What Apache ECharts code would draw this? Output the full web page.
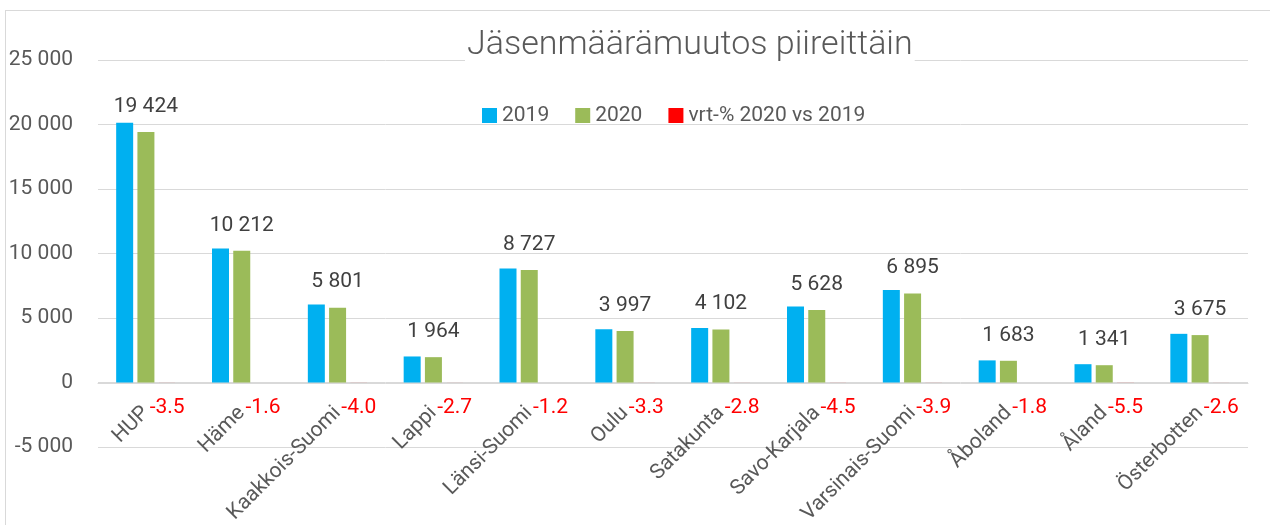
<!DOCTYPE html>
<html>
<head>
<meta charset="utf-8">
<script src="https://cdn.jsdelivr.net/npm/echarts@6/dist/echarts.min.js"></script>
<style>
  html, body { margin: 0; padding: 0; background: #fff; }
  #frame {
    position: absolute; left: 5px; top: 10px; width: 1300px; height: 600px;
    border-left: 1px solid #d9d9d9; border-top: 1px solid #d9d9d9;
  }
  #chart { position: absolute; left: 0; top: 0; width: 1270px; height: 525px; }
</style>
</head>
<body>
<div id="frame"></div>
<div id="chart"></div>
<script>
// 数据
const districts = ['HUP', 'Häme', 'Kaakkois-Suomi', 'Lappi', 'Länsi-Suomi', 'Oulu', 'Satakunta',
  'Savo-Karjala', 'Varsinais-Suomi', 'Åboland', 'Åland', 'Österbotten']
const members2019 = [20128, 10378, 6043, 2018, 8833, 4133, 4220, 5893, 7175, 1714, 1419, 3773]
const members2020 = [19424, 10212, 5801, 1964, 8727, 3997, 4102, 5628, 6895, 1683, 1341, 3675]
const changePct = [-3.5, -1.6, -4.0, -2.7, -1.2, -3.3, -2.8, -4.5, -3.9, -1.8, -5.5, -2.6]

const FONT = "'Roboto', sans-serif"
const fmt = v => String(v).replace(/\B(?=(\d{3})+(?!\d))/g, ' ')

const chart = echarts.init(document.getElementById('chart'))

chart.setOption({
  animation: false,
  textStyle: { fontFamily: FONT },
  title: {
    text: 'Jäsenmäärämuutos piireittäin',
    left: 465,
    top: 26,
    padding: [2, 2, 2, 2],
    backgroundColor: '#fff',
    textStyle: { fontFamily: FONT, fontSize: 34, fontWeight: 300, color: '#595959' }
  },
  legend: {
    left: 477,
    top: 100,
    icon: 'rect',
    itemWidth: 15,
    itemHeight: 15,
    itemGap: 26,
    textStyle: { fontFamily: FONT, fontSize: 21, color: '#595959' },
    data: ['2019', '2020', 'vrt-% 2020 vs 2019']
  },
  grid: { left: 98, right: 22, top: 60, bottom: 78, containLabel: false, outerBoundsMode: 'none' },
  xAxis: {
    type: 'category',
    data: districts,
    offset: -64,
    axisLine: { onZero: false, lineStyle: { color: '#d9d9d9', width: 1 } },
    axisTick: { show: false },
    axisLabel: {
      interval: 0,
      rotate: 45,
      margin: 27,
      padding: [0, 0, 0, 0],
      fontSize: 21,
      color: '#595959',
      fontFamily: FONT
    }
  },
  yAxis: {
    type: 'value',
    min: -5000,
    max: 25000,
    interval: 5000,
    axisLine: { show: false },
    axisTick: { show: false },
    splitLine: { lineStyle: { color: '#d9d9d9', width: 1 } },
    axisLabel: {
      margin: 25,
      fontSize: 21,
      color: '#595959',
      fontFamily: FONT,
      formatter: fmt
    }
  },
  series: [
    {
      name: '2019',
      type: 'bar',
      data: members2019,
      barWidth: 17,
      barGap: '25%',
      itemStyle: { color: '#00b0f0' }
    },
    {
      name: '2020',
      type: 'bar',
      data: members2020,
      barWidth: 17,
      barGap: '25%',
      itemStyle: { color: '#9bbb59' },
      label: {
        show: true,
        position: 'top',
        distance: 15,
        fontSize: 21,
        color: '#404040',
        fontFamily: FONT,
        formatter: p => fmt(p.value)
      }
    },
    {
      name: 'vrt-% 2020 vs 2019',
      type: 'bar',
      data: changePct,
      barWidth: 17,
      barGap: '25%',
      itemStyle: { color: '#ff0000' },
      label: {
        show: true,
        position: 'bottom',
        distance: 15,
        fontSize: 21,
        color: '#ff0000',
        fontFamily: FONT,
        formatter: p => p.value.toFixed(1)
      }
    }
  ]
})
</script>
</body>
</html>
